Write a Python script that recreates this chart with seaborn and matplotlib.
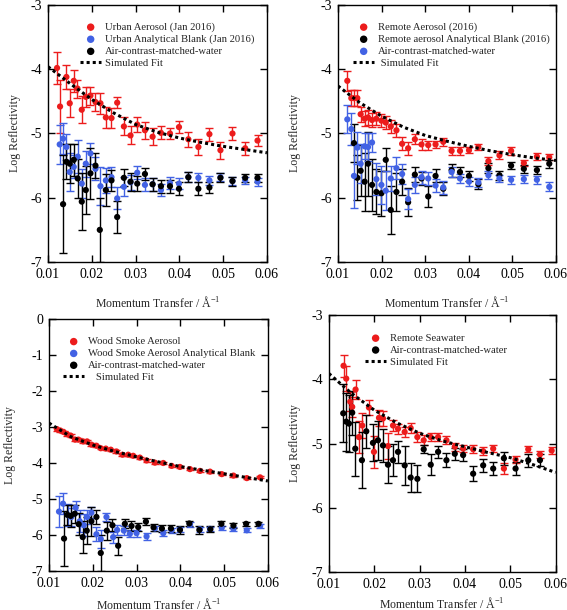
import numpy as np
import pandas as pd
import matplotlib
matplotlib.use("Agg")
import matplotlib.pyplot as plt
import seaborn as sns

# ---------------- data ----------------
# Panel A: urban
q_urban = [0.01206, 0.01275, 0.0142, 0.01496, 0.01588, 0.01672, 0.01771, 0.01863, 0.01969, 0.02084,
           0.02198, 0.02321, 0.0245, 0.0258, 0.02733, 0.02885, 0.03038, 0.03214, 0.03389, 0.0358,
           0.03786, 0.03992, 0.04206, 0.04435, 0.04687, 0.04939, 0.05214, 0.05504, 0.05786]
r_urban = [-3.98, -4.58, -4.12, -4.53, -4.18, -4.30, -4.63, -4.43, -4.41, -4.51,
           -4.53, -4.75, -4.76, -4.52, -4.89, -5.03, -4.86, -4.95, -5.05, -4.99,
           -5.00, -4.90, -5.09, -5.21, -5.01, -5.26, -5.00, -5.23, -5.11]
e_urban = [0.25, 0.42, 0.18, 0.22, 0.17, 0.14, 0.21, 0.16, 0.14, 0.14,
           0.16, 0.17, 0.16, 0.09, 0.14, 0.14, 0.12, 0.13, 0.13, 0.10,
           0.08, 0.10, 0.12, 0.13, 0.10, 0.13, 0.10, 0.10, 0.09]

q_urban_blank = [0.01267, 0.01344, 0.0142, 0.01496, 0.01588, 0.01679, 0.01771, 0.01863, 0.01969, 0.02084,
                 0.02198, 0.02321, 0.0245, 0.0258, 0.02733, 0.02885, 0.03038, 0.03214, 0.03389, 0.0358,
                 0.03786, 0.03992, 0.04206, 0.04435, 0.04687, 0.04939, 0.05214, 0.05504, 0.05786]
r_urban_blank = [-5.17, -5.08, -5.21, -5.60, -5.52, -5.36, -5.78, -5.47, -5.31, -5.55,
                 -5.82, -5.73, -5.68, -6.01, -5.83, -5.76, -5.61, -5.80, -5.79, -5.88,
                 -5.77, -5.78, -5.68, -5.69, -5.73, -5.68, -5.74, -5.73, -5.75]
e_urban_blank = [0.31, 0.24, 0.20, 0.30, 0.18, 0.26, 0.23, 0.20, 0.16, 0.18,
                 0.30, 0.19, 0.16, 0.17, 0.15, 0.12, 0.10, 0.10, 0.10, 0.10,
                 0.10, 0.08, 0.08, 0.07, 0.07, 0.06, 0.06, 0.06, 0.06]

# air-contrast-matched water (used in panels A and C)
q_acmw = [0.01344, 0.0142, 0.01496, 0.01588, 0.01679, 0.01771, 0.01863, 0.01969, 0.02084, 0.02183,
          0.02321, 0.0245, 0.0258, 0.02733, 0.02885, 0.03038, 0.03214, 0.03389, 0.0358, 0.03786,
          0.03992, 0.04206, 0.04435, 0.04687, 0.04939, 0.05214, 0.05504, 0.05786]
r_acmw = [-6.10, -5.44, -5.47, -5.41, -5.70, -6.06, -5.88, -5.62, -5.50, -6.50,
          -5.88, -5.73, -6.30, -5.69, -5.75, -5.78, -5.63, -5.79, -5.82, -5.82,
          -5.86, -5.68, -5.86, -5.84, -5.69, -5.74, -5.69, -5.69]
e_acmw = [0.76, 0.27, 0.30, 0.25, 0.30, 0.44, 0.37, 0.40, 0.20, 0.50,
          0.25, 0.16, 0.25, 0.13, 0.14, 0.12, 0.09, 0.10, 0.10, 0.10,
          0.10, 0.08, 0.10, 0.09, 0.07, 0.07, 0.06, 0.06]

fit_q = [0.010, 0.015, 0.020, 0.025, 0.030, 0.035, 0.040, 0.045, 0.050, 0.055, 0.060]
fit_urban = [-3.96, -4.22, -4.47, -4.68, -4.86, -4.98, -5.07, -5.14, -5.20, -5.25, -5.30]

# Panel B: remote aerosol
q_remote = [0.01215, 0.01307, 0.01368, 0.01445, 0.01521, 0.01613, 0.0169, 0.01782, 0.01882, 0.01997,
            0.02097, 0.02212, 0.02342, 0.02472, 0.0261, 0.02764, 0.02917, 0.0307, 0.03239, 0.03416,
            0.03607, 0.03799, 0.04006, 0.04221, 0.04451, 0.04704, 0.04972, 0.05264, 0.05563, 0.05847]
r_remote = [-4.18, -4.45, -4.45, -4.45, -4.70, -4.77, -4.75, -4.79, -4.77, -4.80,
            -4.83, -4.89, -4.95, -5.16, -5.23, -5.09, -5.17, -5.18, -5.17, -5.13,
            -5.27, -5.27, -5.26, -5.21, -5.43, -5.34, -5.27, -5.46, -5.36, -5.37]
e_remote = [0.16, 0.12, 0.12, 0.12, 0.12, 0.12, 0.12, 0.11, 0.10, 0.10,
            0.10, 0.10, 0.10, 0.10, 0.10, 0.08, 0.08, 0.07, 0.06, 0.06,
            0.06, 0.06, 0.05, 0.05, 0.06, 0.06, 0.06, 0.05, 0.05, 0.05]

q_remote_blank = [0.01368, 0.01445, 0.01521, 0.01613, 0.0169, 0.01782, 0.01882, 0.01997, 0.02097, 0.02212,
                  0.02342, 0.02472, 0.0261, 0.02764, 0.02917, 0.0307, 0.03239, 0.03416, 0.03607, 0.03799,
                  0.04006, 0.04221, 0.04451, 0.04704, 0.04972, 0.05264, 0.05563, 0.05847]
r_remote_blank = [-5.15, -5.69, -5.58, -5.75, -5.47, -5.80, -5.91, -5.93, -5.41, -6.19,
                  -5.91, -5.75, -6.07, -5.64, -5.70, -5.98, -5.66, -5.86, -5.57, -5.60,
                  -5.66, -5.79, -5.54, -5.65, -5.50, -5.55, -5.57, -5.47]
e_remote_blank = [0.30, 0.35, 0.40, 0.45, 0.50, 0.40, 0.35, 0.35, 0.18, 0.37,
                  0.30, 0.20, 0.22, 0.12, 0.10, 0.16, 0.10, 0.10, 0.10, 0.08,
                  0.08, 0.08, 0.08, 0.07, 0.06, 0.06, 0.06, 0.06]

q_remote_water = q_remote
r_remote_water = [-4.78, -4.93, -5.66, -5.22, -5.47, -5.20, -5.21, -5.14, -5.71, -5.80,
                  -5.89, -5.70, -5.54, -5.63, -6.02, -5.80, -5.68, -5.70, -5.81, -5.84,
                  -5.60, -5.70, -5.75, -5.76, -5.65, -5.70, -5.72, -5.71, -5.72, -5.83]
e_remote_water = [0.22, 0.25, 0.50, 0.25, 0.30, 0.20, 0.22, 0.15, 0.25, 0.30,
                  0.30, 0.20, 0.17, 0.15, 0.15, 0.12, 0.10, 0.10, 0.10, 0.10,
                  0.08, 0.07, 0.07, 0.07, 0.06, 0.06, 0.06, 0.06, 0.06, 0.07]

fit_remote = [-4.26, -4.52, -4.73, -4.90, -5.03, -5.12, -5.20, -5.27, -5.33, -5.38, -5.42]

# Panel C: wood smoke
q_wood = [0.01183, 0.0126, 0.01336, 0.01412, 0.01496, 0.01595, 0.01672, 0.01779, 0.0187, 0.01969,
          0.02084, 0.02183, 0.02298, 0.02412, 0.02542, 0.02679, 0.02809, 0.02924, 0.03076, 0.03229,
          0.0342, 0.03611, 0.03802, 0.03992, 0.04221, 0.0445, 0.04679, 0.04947, 0.05214, 0.05519, 0.05824]
r_wood = [-3.06, -3.10, -3.14, -3.20, -3.24, -3.35, -3.35, -3.40, -3.40, -3.49,
          -3.52, -3.59, -3.60, -3.63, -3.68, -3.77, -3.77, -3.80, -3.85, -3.93,
          -3.99, -4.00, -4.08, -4.11, -4.17, -4.22, -4.24, -4.31, -4.35, -4.42, -4.40]
e_wood = [0.04, 0.04, 0.04, 0.04, 0.04, 0.04, 0.04, 0.04, 0.04, 0.04,
          0.03, 0.03, 0.03, 0.03, 0.03, 0.03, 0.03, 0.03, 0.03, 0.03,
          0.03, 0.03, 0.03, 0.03, 0.03, 0.03, 0.03, 0.03, 0.03, 0.03, 0.03]

q_wood_blank = [0.01229, 0.01321, 0.01435, 0.01511, 0.0161, 0.01702, 0.01794, 0.0187, 0.01969, 0.02084,
                0.02183, 0.02313, 0.02466, 0.02557, 0.0271, 0.02847, 0.03, 0.03229, 0.0342, 0.03611,
                0.03802, 0.03992, 0.04221, 0.0445, 0.04679, 0.04947, 0.05214, 0.05519, 0.05824]
r_wood_blank = [-5.35, -5.13, -5.45, -5.50, -5.24, -5.62, -5.73, -5.50, -5.38, -5.98,
                -6.11, -5.50, -6.06, -5.86, -5.88, -5.97, -5.95, -6.04, -5.82, -5.95,
                -5.87, -5.85, -5.72, -5.84, -5.83, -5.80, -5.83, -5.87, -5.75]
e_wood_blank = [0.42, 0.30, 0.30, 0.25, 0.18, 0.30, 0.30, 0.20, 0.15, 0.20,
                0.25, 0.12, 0.15, 0.15, 0.12, 0.10, 0.10, 0.10, 0.08, 0.08,
                0.07, 0.07, 0.07, 0.07, 0.06, 0.06, 0.06, 0.06, 0.06]

fit_wood = [-2.89, -3.27, -3.50, -3.68, -3.83, -3.97, -4.10, -4.20, -4.30, -4.40, -4.50]

# Panel D: remote seawater
q_sea = [0.01324, 0.01383, 0.01471, 0.01515, 0.01589, 0.01663, 0.01736, 0.01884, 0.01994, 0.02105,
         0.02193, 0.02303, 0.02414, 0.02524, 0.02671, 0.02804, 0.02951, 0.03091, 0.03245, 0.03408,
         0.03592, 0.03776, 0.0396, 0.04181, 0.04402, 0.04623, 0.04859, 0.05116, 0.05396, 0.05654, 0.05912]
r_sea = [-3.79, -3.99, -4.35, -4.43, -4.16, -4.90, -4.72, -4.44, -5.13, -4.60,
         -4.61, -5.04, -4.72, -4.77, -4.82, -4.76, -4.90, -4.95, -4.90, -4.90,
         -4.95, -5.05, -5.08, -5.09, -5.12, -5.08, -5.39, -5.25, -5.09, -5.17, -5.11]
e_sea = [0.17, 0.20, 0.15, 0.15, 0.15, 0.25, 0.20, 0.12, 0.25, 0.12,
         0.12, 0.20, 0.08, 0.08, 0.08, 0.08, 0.08, 0.08, 0.06, 0.06,
         0.06, 0.06, 0.06, 0.06, 0.06, 0.05, 0.08, 0.06, 0.05, 0.05, 0.05]

q_sea_water = [0.01317, 0.01383, 0.01442, 0.01515, 0.01582, 0.01729, 0.01825, 0.01972, 0.02082, 0.02193,
               0.02303, 0.02414, 0.02524, 0.02672, 0.02804, 0.02951, 0.03091, 0.03246, 0.03408, 0.03592,
               0.03776, 0.0396, 0.04181, 0.04402, 0.04623, 0.04859, 0.05116, 0.05396, 0.05654]
r_sea_water = [-4.53, -4.66, -4.69, -4.52, -5.08, -5.26, -4.81, -4.99, -4.95, -5.03,
               -5.33, -5.26, -5.13, -5.34, -5.53, -5.55, -5.09, -5.33, -5.13, -5.26,
               -5.16, -5.18, -5.47, -5.34, -5.39, -5.23, -5.39, -5.26, -5.26]
e_sea_water = [0.45, 0.45, 0.45, 0.34, 0.42, 0.44, 0.26, 0.29, 0.30, 0.26,
               0.29, 0.25, 0.17, 0.30, 0.23, 0.21, 0.06, 0.16, 0.09, 0.11,
               0.09, 0.09, 0.12, 0.10, 0.10, 0.10, 0.10, 0.10, 0.09]

fit_sea = [-3.91, -4.22, -4.48, -4.68, -4.84, -4.96, -5.05, -5.14, -5.22, -5.33, -5.45]

x_ticks = [0.01, 0.02, 0.03, 0.04, 0.05, 0.06]
x_tick_labels = ["0.01", "0.02", "0.03", "0.04", "0.05", "0.06"]

# ---------------- style ----------------
sns.set_theme(style="ticks")
FAMILY = ["Liberation Serif", "DejaVu Serif"]
plt.rcParams.update({
    "font.family": FAMILY,
    "mathtext.fontset": "custom",
    "mathtext.rm": "Liberation Serif",
    "mathtext.default": "regular",
    "xtick.direction": "in", "ytick.direction": "in",
    "xtick.top": True, "ytick.right": True,
    "xtick.major.size": 5, "ytick.major.size": 5,
    "xtick.major.width": 1, "ytick.major.width": 1,
    "xtick.minor.visible": False, "ytick.minor.visible": False,
    "axes.linewidth": 1.0, "axes.edgecolor": "black",
    "xtick.color": "black", "ytick.color": "black",
    "font.size": 10,
})

RED = "#ec1c1c"
BLUE = "#4262e4"
BLACK = "#000000"

fig = plt.figure(figsize=(5.67, 6.10), dpi=100)
axA = fig.add_axes([0.0847, 0.5705, 0.386, 0.4213])
axB = fig.add_axes([0.596, 0.5705, 0.3845, 0.4213])
axC = fig.add_axes([0.0864, 0.064, 0.386, 0.413])
axD = fig.add_axes([0.580, 0.0623, 0.400, 0.4213])


def draw(ax, series, fit_r, fit_label, ylim, yticks, anchor, xpad, ypad):
    for label, q, r, e, color in series:
        ax.errorbar(q, r, yerr=e, fmt="none", ecolor=color, elinewidth=1.0,
                    capsize=3, capthick=1.0, zorder=2)
        sns.scatterplot(x=q, y=r, color=color, s=20, edgecolor="none",
                        ax=ax, label=label, zorder=3, legend=False)
    sns.lineplot(x=fit_q, y=fit_r, ax=ax, color="black", linestyle=(0, (1, 1)),
                 linewidth=2.2, label=fit_label, zorder=4, legend=False)
    ax.set_xlim(0.01, 0.06)
    ax.set_ylim(*ylim)
    ax.set_xticks(x_ticks)
    ax.set_xticklabels(x_tick_labels, fontsize=10, fontfamily=FAMILY)
    ax.set_yticks(yticks)
    ax.set_yticklabels([str(v) for v in yticks], fontsize=10, fontfamily=FAMILY)
    ax.tick_params(axis="both", which="major", pad=4)
    ax.set_xlabel("Momentum Transfer / Å$^{-1}$", fontsize=8.5,
                  fontfamily=FAMILY, labelpad=xpad)
    ax.set_ylabel("Log Reflectivity", fontsize=8.5, fontfamily=FAMILY,
                  labelpad=ypad)
    handles, labels = ax.get_legend_handles_labels()
    order = [s[0] for s in series] + [fit_label]
    hmap = dict(zip(labels, handles))
    ax.legend([hmap[l] for l in order], order, loc="upper left",
              bbox_to_anchor=anchor, frameon=False,
              prop={"family": FAMILY, "size": 7.7},
              handlelength=2.0, handletextpad=0.3, labelspacing=0.22,
              borderpad=0.0, borderaxespad=0.0, markerscale=1.2)


draw(axA,
     [("Urban Aerosol (Jan 2016)", q_urban, r_urban, e_urban, RED),
      ("Urban Analytical Blank (Jan 2016)", q_urban_blank, r_urban_blank, e_urban_blank, BLUE),
      ("Air-contrast-matched-water", q_acmw, r_acmw, e_acmw, BLACK)],
     fit_urban, "Simulated Fit", (-7, -3), [-7, -6, -5, -4, -3], (0.146, 0.932), 10.5, 7)

draw(axB,
     [("Remote Aerosol (2016)", q_remote, r_remote, e_remote, RED),
      ("Remote aerosol Analytical Blank (2016)", q_remote_blank, r_remote_blank, e_remote_blank, BLACK),
      ("Air-contrast-matched-water", q_remote_water, r_remote_water, e_remote_water, BLUE)],
     fit_remote, " Simulated Fit", (-7, -3), [-7, -6, -5, -4, -3], (0.069, 0.932), 10.5, 14)

draw(axC,
     [("Wood Smoke Aerosol", q_wood, r_wood, e_wood, RED),
      ("Wood Smoke Aerosol Analytical Blank", q_wood_blank, r_wood_blank, e_wood_blank, BLUE),
      ("Air-contrast-matched-water", q_acmw, r_acmw, e_acmw, BLACK)],
     fit_wood, "   Simulated Fit", (-7, 0), [-7, -6, -5, -4, -3, -2, -1, 0], (0.064, 0.929), 5.5, 11.5)

draw(axD,
     [("Remote Seawater", q_sea, r_sea, e_sea, RED),
      ("Air-contrast-matched-water", q_sea_water, r_sea_water, e_sea_water, BLACK)],
     fit_sea, "Simulated Fit", (-7, -3), [-7, -6, -5, -4, -3], (0.159, 0.928), 4, 8)

fig.savefig("out.png", dpi=100)
